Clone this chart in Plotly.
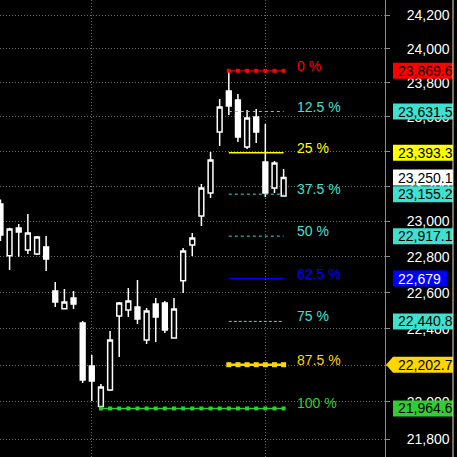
import math
import plotly.graph_objects as go

# daily candles (index 0 = left edge, partially cut off)
opens = [23099.2, 22806.9, 22963.0, 22838.9, 22816.5, 22855.8, 22609.4, 22511.1,
         22570.5, 22432.0, 22195.6, 21975.0, 22064.7, 22470.6, 22503.9, 22520.6,
         22338.2, 22537.2, 22542.7, 22349.2, 22666.9, 22867.1, 23031.0, 23161.9,
         23512.5, 23751.1, 23698.6, 23425.8, 23599.6, 23339.4, 23190.4, 23144.8]
highs = [23125.0, 22964.7, 22985.9, 23042.4, 22917.9, 22917.9, 22659.6, 22620.6,
         22609.4, 22443.0, 22255.8, 22097.4, 22387.8, 22548.3, 22626.2, 22670.8,
         22515.0, 22570.5, 22553.8, 22570.5, 22850.2, 22934.8, 23213.2, 23397.0,
         23704.4, 23869.6, 23733.6, 23640.3, 23646.1, 23558.9, 23345.2, 23299.2]
lows = [22890.0, 22726.7, 22801.3, 22816.5, 22810.9, 22721.1, 22520.6, 22509.4,
        22509.4, 22102.8, 22005.1, 21964.6, 22060.0, 22244.8, 22465.1, 22426.5,
        22316.2, 22327.2, 22376.8, 22345.0, 22598.3, 22805.2, 22974.3, 23133.4,
        23431.6, 23611.2, 23454.7, 23414.3, 23448.9, 23139.1, 23161.9, 23144.8]
closes = [22923.5, 22957.4, 22940.4, 22934.8, 22912.2, 22788.4, 22548.3, 22548.3,
          22537.2, 22119.2, 22113.7, 22081.1, 22338.2, 22542.7, 22553.8, 22454.0,
          22498.4, 22465.1, 22393.3, 22509.4, 22833.3, 22906.6, 23190.4, 23350.9,
          23657.8, 23663.7, 23483.6, 23593.7, 23512.5, 23161.9, 23333.6, 23250.1]

# fibonacci retracement levels
fib_pct = ["0 %", "12.5 %", "25 %", "37.5 %", "50 %", "62.5 %", "75 %", "87.5 %", "100 %"]
fib_values = [23869.6, 23631.5, 23393.3, 23155.2, 22917.1, 22679.0, 22440.8, 22202.7, 21964.6]
fib_tags = ["23,869.6", "23,631.5", "23,393.3", "23,155.2", "22,917.1", "22,679",
            "22,440.8", "22,202.7", "21,964.6"]
fib_start = [25, 25, 25, 25, 25, 25, 25, 25, 11]
fib_end = 31

last_price = 23250.1
last_tag = "23,250.1"

y_ticks = [21800, 22000, 22200, 22400, 22600, 22800, 23000, 23200, 23400,
           23600, 23800, 24000, 24200]
y_ticktext = ["21,800", "22,000", "22,200", "22,400", "22,600", "22,800", "23,000",
              "23,200", "23,400", "23,600", "23,800", "24,000", "24,200"]

TURQ = "#40e0d0"
fib_styles = [
    dict(color="#ff0000", width=1, dash="solid", marker=4),
    dict(color=TURQ, width=1, dash="3px,3px", marker=0),
    dict(color="#ffff00", width=1.5, dash="solid", marker=0),
    dict(color=TURQ, width=1, dash="3px,3px", marker=0),
    dict(color=TURQ, width=1, dash="3px,3px", marker=0),
    dict(color="#0000ff", width=1, dash="solid", marker=0),
    dict(color=TURQ, width=1, dash="3px,2px", marker=0),
    dict(color="#ffd700", width=2.5, dash="solid", marker=5),
    dict(color="#32cd32", width=1.5, dash="solid", marker=4),
]
tag_text_colors = ["#000000"] * 9
tag_text_colors[5] = "#ffffff"

W, H = 457, 457
MR = 72
PLOT_W = W - MR
Y_LO, Y_HI = math.log10(21703.6), math.log10(24289.6)
FONT = "Arial, Liberation Sans, sans-serif"


def ypaper(v):
    return (math.log10(v) - Y_LO) / (Y_HI - Y_LO)


def xpaper(px):
    return px / PLOT_W


fig = go.Figure()

fig.add_trace(go.Candlestick(
    x=list(range(len(opens))), open=opens, high=highs, low=lows, close=closes,
    increasing=dict(line=dict(color="white", width=1.5), fillcolor="black"),
    decreasing=dict(line=dict(color="white", width=1.5), fillcolor="white"),
    whiskerwidth=0, hoverinfo="skip",
))

for pct, val, start, st in zip(fib_pct, fib_values, fib_start, fib_styles):
    xs = list(range(start, fib_end + 1))
    fig.add_trace(go.Scatter(
        x=xs, y=[val] * len(xs),
        mode="lines+markers" if st["marker"] else "lines",
        line=dict(color=st["color"], width=st["width"], dash=st["dash"]),
        marker=dict(symbol="square", size=st["marker"], color=st["color"]),
        hoverinfo="skip",
    ))
    fig.add_annotation(
        x=32.3, y=math.log10(val), xref="x", yref="y", text=pct,
        showarrow=False, xanchor="left", yanchor="middle", yshift=5,
        font=dict(family=FONT, size=14, color=st["color"]),
    )

# price tags on the right axis
tags = list(zip(fib_values, fib_tags, [s["color"] for s in fib_styles], tag_text_colors))
tags.append((last_price, last_tag, "#ffffff", "#000000"))
half_h = 8 / H
for i, (val, txt, bg, fg) in enumerate(tags):
    yc = ypaper(val)
    n_punct = txt.count(",") + txt.count(".")
    w = 7.8 * (len(txt) - n_punct) + 3.9 * n_punct + 11
    x0, x1 = 393, min(393 + w, 453)
    if i == 7:
        fig.add_shape(
            type="path", xref="paper", yref="paper", layer="above",
            path=(f"M {xpaper(386)},{yc} L {xpaper(393)},{yc + half_h} "
                  f"L {xpaper(x1)},{yc + half_h} L {xpaper(x1)},{yc - half_h} "
                  f"L {xpaper(393)},{yc - half_h} Z"),
            fillcolor=bg, line=dict(width=0),
        )
    else:
        fig.add_shape(
            type="rect", xref="paper", yref="paper", layer="above",
            x0=xpaper(x0), x1=xpaper(x1), y0=yc - half_h, y1=yc + half_h,
            fillcolor=bg, line=dict(width=0),
        )
    fig.add_annotation(
        x=xpaper(396), y=yc, xref="paper", yref="paper", text=txt,
        showarrow=False, xanchor="left", yanchor="middle",
        font=dict(family=FONT, size=14, color=fg),
    )

# right border line
fig.add_shape(type="line", xref="paper", yref="paper", layer="above",
              x0=xpaper(453), x1=xpaper(453), y0=0, y1=1,
              line=dict(color="#e8dcb5", width=1))

fig.update_layout(
    width=W, height=H,
    margin=dict(l=0, r=MR, t=0, b=0),
    paper_bgcolor="black", plot_bgcolor="black",
    showlegend=False, boxgap=0.25,
    xaxis=dict(
        range=[-0.05, 42.1], rangeslider=dict(visible=False),
        tickvals=[10, 29], showticklabels=False, ticks="",
        showgrid=True, gridcolor="#6a6a6a", griddash="1px,2px", gridwidth=1,
        zeroline=False, showline=False, fixedrange=True,
    ),
    yaxis=dict(
        type="log", side="right", range=[Y_LO, Y_HI],
        tickvals=y_ticks, ticktext=y_ticktext,
        ticks="outside", ticklen=4, tickcolor="#8a8a8a",
        ticklabelstandoff=14,
        tickfont=dict(family=FONT, size=14, color="white"),
        showgrid=True, gridcolor="#6a6a6a", griddash="1px,2px", gridwidth=1,
        showline=True, linecolor="#8a8a8a", linewidth=1,
        zeroline=False,
    ),
)

fig.write_html("out.html", config={"displayModeBar": False},
               post_script="document.body.style.margin='0px';"
               "document.body.style.background='black';")
